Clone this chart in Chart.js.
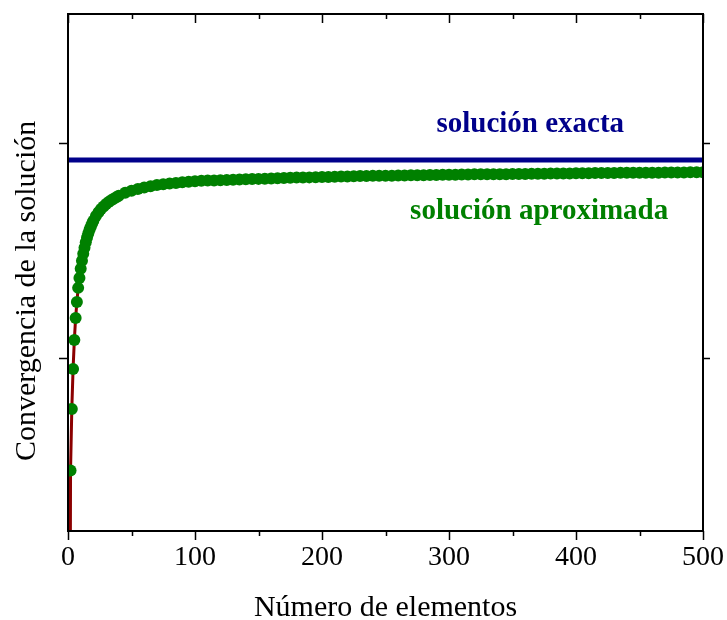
<!DOCTYPE html>
<html>
<head>
<meta charset="utf-8">
<script src="https://cdn.jsdelivr.net/npm/chart.js@4"></script>
<style>
  body { margin: 0; background: #fff; }
  #wrap { width: 727px; height: 620px; }
</style>
</head>
<body>
<div id="wrap"><canvas id="conv"></canvas></div>
<script>
// number of elements for the approximate solution
const elementos = [2, 3, 4, 5, 6, 7, 8, 9, 10, 11, 12, 13, 14, 15, 16, 17, 18, 19, 20,
  22, 24, 26, 28, 30, 32, 34, 36, 38, 40,
  45, 50, 55, 60, 65, 70, 75, 80, 85, 90, 95, 100,
  105, 110, 115, 120, 125, 130, 135, 140, 145, 150,
  155, 160, 165, 170, 175, 180, 185, 190, 195, 200,
  205, 210, 215, 220, 225, 230, 235, 240, 245, 250,
  255, 260, 265, 270, 275, 280, 285, 290, 295, 300,
  305, 310, 315, 320, 325, 330, 335, 340, 345, 350,
  355, 360, 365, 370, 375, 380, 385, 390, 395, 400,
  405, 410, 415, 420, 425, 430, 435, 440, 445, 450,
  455, 460, 465, 470, 475, 480, 485, 490, 495, 500];
const aproximada = [0.476, 0.763, 0.949, 1.084, 1.186, 1.26, 1.326, 1.372, 1.415, 1.452, 1.485, 1.513, 1.538, 1.56, 1.58, 1.597, 1.612, 1.626, 1.638,
  1.66, 1.678, 1.693, 1.705, 1.716, 1.725, 1.734, 1.741, 1.748, 1.754,
  1.768, 1.778, 1.786, 1.793, 1.799, 1.804, 1.808, 1.811, 1.814, 1.817, 1.82, 1.822,
  1.824, 1.825, 1.826, 1.827, 1.828, 1.829, 1.83, 1.831, 1.832, 1.833,
  1.834, 1.835, 1.836, 1.837, 1.838, 1.839, 1.839, 1.84, 1.841, 1.842,
  1.842, 1.843, 1.844, 1.844, 1.845, 1.846, 1.846, 1.847, 1.847, 1.848,
  1.848, 1.849, 1.849, 1.85, 1.85, 1.85, 1.851, 1.851, 1.852, 1.852,
  1.852, 1.853, 1.853, 1.854, 1.854, 1.854, 1.855, 1.855, 1.855, 1.856,
  1.856, 1.856, 1.857, 1.857, 1.857, 1.858, 1.858, 1.858, 1.858, 1.859,
  1.859, 1.859, 1.86, 1.86, 1.86, 1.86, 1.861, 1.861, 1.861, 1.862,
  1.862, 1.862, 1.862, 1.863, 1.863, 1.863, 1.863, 1.864, 1.864, 1.864];

// red curve (mostly hidden under the dots)
const curvaN = [1, 2, 3, 4, 5, 6, 7, 8, 9, 10, 12, 15, 20, 30, 40, 60, 100, 200, 300, 500];
const curvaValores = [-2.0, 0.476, 0.763, 0.949, 1.084, 1.186, 1.26, 1.326, 1.372, 1.415, 1.485, 1.56, 1.638, 1.716, 1.754, 1.793, 1.822, 1.842, 1.852, 1.864];

const exacta = 1.921;
const xTicks = [0, 50, 100, 150, 200, 250, 300, 350, 400, 450, 500];
const yTicks = [1, 2];

const serif = "'Liberation Serif', 'Times New Roman', serif";

const pts = (xs, ys) => xs.map((x, i) => ({ x: x, y: ys[i] }));

// frame, tick marks, y title and the two text labels
const framePlugin = {
  id: 'frame',
  afterDraw(chart) {
    const { ctx, chartArea: a, scales } = chart;
    const x = scales.x, y = scales.y;
    ctx.save();
    ctx.strokeStyle = '#000';
    ctx.lineWidth = 2;
    ctx.strokeRect(a.left, a.top, a.right - a.left, a.bottom - a.top);
    ctx.lineWidth = 1.5;
    ctx.beginPath();
    xTicks.forEach(v => {
      const px = Math.round(x.getPixelForValue(v)) + 0.5;
      const len = v % 100 === 0 ? 9 : 5;
      ctx.moveTo(px, a.bottom); ctx.lineTo(px, a.bottom + len);
      ctx.moveTo(px, a.top); ctx.lineTo(px, a.top + len);
    });
    yTicks.forEach(v => {
      const py = Math.round(y.getPixelForValue(v)) + 0.5;
      ctx.moveTo(a.left, py); ctx.lineTo(a.left - 9, py);
      ctx.moveTo(a.right, py); ctx.lineTo(a.right + 7, py);
    });
    ctx.stroke();

    ctx.textAlign = 'center';
    ctx.textBaseline = 'middle';
    ctx.font = 'bold 29px ' + serif;
    ctx.fillStyle = '#00008b';
    ctx.fillText('solución exacta', x.getPixelForValue(364), y.getPixelForValue(2.084));
    ctx.fillStyle = '#008000';
    ctx.fillText('solución aproximada', x.getPixelForValue(371), y.getPixelForValue(1.679));

    // y axis title, sits a bit below the middle of the plot like the original
    ctx.fillStyle = '#000';
    ctx.font = '30px ' + serif;
    ctx.translate(27, y.getPixelForValue(1.312));
    ctx.rotate(-Math.PI / 2);
    ctx.fillText('Convergencia de la solución', 0, 0);
    ctx.restore();
  }
};

const config = {
  type: 'scatter',
  data: {
    datasets: [
      {
        label: 'curva',
        data: pts(curvaN, curvaValores),
        showLine: true,
        borderColor: '#8b0000',
        borderWidth: 3,
        pointRadius: 0,
        order: 3
      },
      {
        label: 'solución exacta',
        data: [{ x: 0, y: exacta }, { x: 500, y: exacta }],
        showLine: true,
        borderColor: '#00008b',
        borderWidth: 5,
        pointRadius: 0,
        order: 2
      },
      {
        label: 'solución aproximada',
        data: pts(elementos, aproximada),
        showLine: false,
        backgroundColor: '#008000',
        borderWidth: 0,
        pointRadius: 6,
        order: 1
      }
    ]
  },
  options: {
    responsive: true,
    maintainAspectRatio: false,
    animation: false,
    layout: { padding: { top: 14, right: 24, left: 0, bottom: 0 } },
    plugins: { legend: { display: false }, tooltip: { enabled: false } },
    scales: {
      x: {
        type: 'linear',
        min: 0,
        max: 500,
        afterBuildTicks: (s) => { s.ticks = [0, 100, 200, 300, 400, 500].map(v => ({ value: v })); },
        afterFit: (s) => { s.height = 89; },
        grid: { display: false },
        border: { display: false },
        ticks: { color: '#000', padding: 2, maxRotation: 0, font: { family: serif, size: 28 } },
        title: {
          display: true,
          text: 'Número de elementos',
          color: '#000',
          padding: { top: 0, bottom: -3 },
          font: { family: serif, size: 30, lineHeight: 1 }
        }
      },
      y: {
        type: 'linear',
        min: 0.195,
        max: 2.6,
        afterFit: (s) => { s.width = 68; },
        grid: { display: false },
        border: { display: false },
        ticks: { display: false },
        title: { display: false }
      }
    }
  },
  plugins: [framePlugin]
};

const ctx = document.getElementById('conv').getContext('2d');
window.convChart = new Chart(ctx, config);
</script>
</body>
</html>
